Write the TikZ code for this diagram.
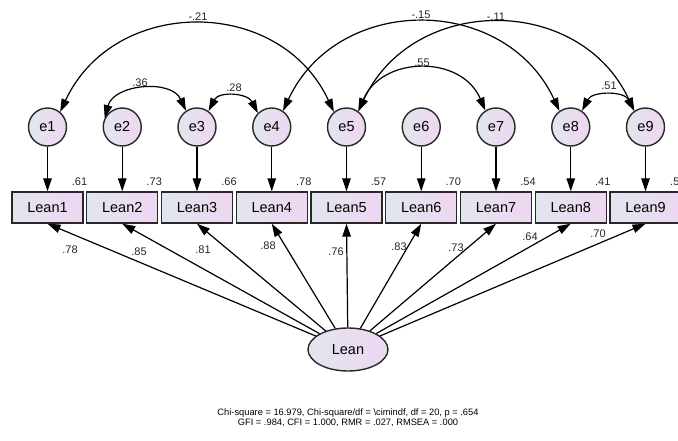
\documentclass[tikz,border=0pt]{standalone}
\usepackage{fontspec}
\setmainfont{Liberation Sans}
\usetikzlibrary{arrows.meta,shapes.geometric}
\definecolor{fillA}{RGB}{226,230,238}
\definecolor{fillB}{RGB}{238,214,242}
\definecolor{edge}{RGB}{40,40,40}
\begin{document}
\begin{tikzpicture}[x=1pt,y=1pt,
  lat/.style={draw=edge, line width=1.4pt, left color=fillA, right color=fillB},
  err/.style={lat, circle, minimum size=38pt, inner sep=0pt, font=\fontsize{14.5}{17}\selectfont},
  obs/.style={lat, rectangle, minimum width=71pt, minimum height=31pt, inner sep=0pt, font=\fontsize{14.5}{17}\selectfont},
  fac/.style={lat, ellipse, minimum width=80pt, minimum height=43pt, inner sep=0pt, font=\fontsize{14.5}{17}\selectfont},
  arr/.style={line width=1.2pt, draw=black, -{Triangle[length=13pt,width=8.5pt]}},
  cov/.style={line width=1.2pt, draw=black, {Triangle[length=13pt,width=8.5pt]}-{Triangle[length=13pt,width=8.5pt]}},
  lbl/.style={font=\fontsize{11}{13}\selectfont, text=black!85, inner sep=0pt},
  fit/.style={font=\fontsize{9.3}{9.8}\selectfont, align=center, inner sep=0pt},
]
\useasboundingbox (0,0) rectangle (678,440);

\foreach \i in {1,...,9} {
  \pgfmathsetmacro\cx{47.5+74.75*(\i-1)}
  \node[err] (e\i) at (\cx,313) {e\i};
  \node[obs] (L\i) at (\cx,232.5) {Lean\i};
  \draw[arr] (e\i) -- (L\i);
}

\node[fac] (Lean) at (348,90.5) {Lean};
\foreach \i in {1,...,9} {
  \draw[arr] (Lean) -- (L\i.south);
}

% variances
\foreach \i/\v in {1/.61,2/.73,3/.66,4/.78,5/.57,6/.70,7/.54,8/.41} {
  \pgfmathsetmacro\cx{47.5+74.75*(\i-1)+32}
  \node[lbl] (v\i) at (\cx,258) {\v};
}
\node[lbl, anchor=west] (v9) at (670,258) {.5};

% loadings
\node[lbl] (w1) at (70,190) {.78};
\node[lbl] (w2) at (139,188) {.85};
\node[lbl] (w3) at (203,190) {.81};
\node[lbl] (w4) at (268,194) {.88};
\node[lbl] (w5) at (336,188) {.76};
\node[lbl] (w6) at (399,193) {.83};
\node[lbl] (w7) at (456,192) {.73};
\node[lbl] (w8) at (530,203) {.64};
\node[lbl] (w9) at (598,206) {.70};

% covariances
\draw[cov] (e1.50) to[out=65,in=115,looseness=1.2] (e5.130);
\draw[cov] (e4.55) to[out=65,in=115,looseness=1.2] (e8.125);
\draw[cov] (e5.53) to[out=65,in=115,looseness=1.2] (e9.125);
\draw[cov] (e5.53) to[out=67,in=113,looseness=1.22] (e7.123);
\draw[cov] (e2.153) to[out=75,in=115,looseness=1.1] (e3.124);
\draw[cov] (e3.54) to[out=63,in=117,looseness=1.17] (e4.135);
\draw[cov] (e8.55) to[out=63,in=117,looseness=1.1] (e9.125);

\node[lbl] (c1) at (198,423) {-.21};
\node[lbl] (c2) at (421,425) {-.15};
\node[lbl] (c3) at (496,423) {-.11};
\node[lbl] (c4) at (140,357) {.36};
\node[lbl] (c5) at (234,352) {.28};
\node[lbl] (c6) at (422,377) {.55};
\node[lbl] (c7) at (609,354) {.51};

\node[fit] (fitidx) at (348,22.5) {Chi-square = 16.979, Chi-square/df = \textbackslash cimindf, df = 20, p = .654\\GFI = .984, CFI = 1.000, RMR = .027, RMSEA = .000};
\end{tikzpicture}
\end{document}
